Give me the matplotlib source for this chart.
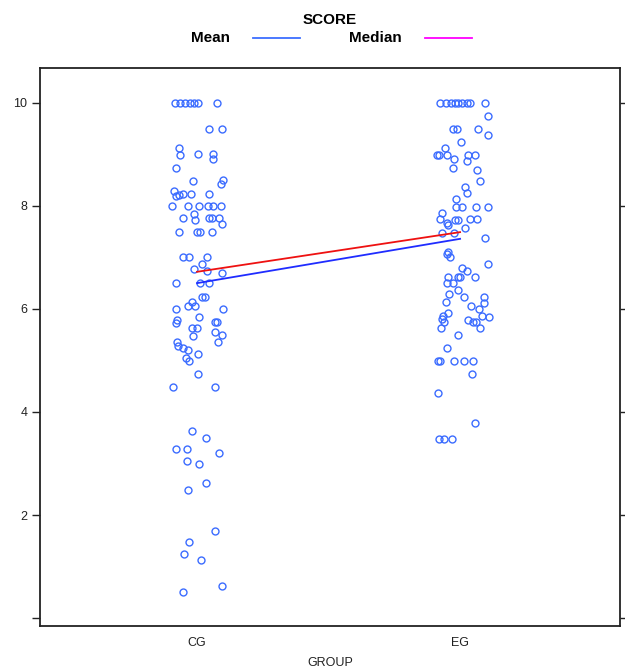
import matplotlib
matplotlib.use("Agg")
import matplotlib.pyplot as plt
from matplotlib.lines import Line2D
import numpy as np

plt.rcParams['font.family'] = ['Liberation Sans', 'DejaVu Sans']

groups = ["CG", "EG"]

cg_scores = [10, 10, 10, 10, 10, 10, 10,
             9.5, 9.5, 9.13, 8.99, 9.0, 9.01, 8.91, 8.74,
             8.49, 8.5, 8.43, 8.29, 8.19, 8.21, 8.23, 8.23, 8.23,
             8.0, 8.0, 8.0, 8.0, 8.0, 8.0,
             7.77, 7.84, 7.73, 7.77, 7.77, 7.77, 7.65,
             7.5, 7.5, 7.5, 7.5,
             7.0, 7.0, 7.0, 6.87, 6.78, 6.74, 6.70,
             6.5, 6.5, 6.5,
             6.23, 6.23, 6.14, 6.06, 6.06, 6.0, 6.0,
             5.85, 5.79, 5.73, 5.63, 5.63, 5.75, 5.75, 5.55, 5.48, 5.50, 5.36, 5.36,
             5.28, 5.24, 5.20, 5.13, 5.05, 4.99,
             4.74, 4.49, 4.49,
             3.63, 3.49, 3.28, 3.28, 3.2, 3.05, 2.99, 2.63, 2.49, 1.69, 1.47, 1.24,
             1.12, 0.62, 0.50]
cg_jitter = [-0.084, -0.065, -0.046, -0.027, -0.011, 0.004, 0.076,
             0.046, 0.095, -0.068, -0.065, 0.004, 0.061, 0.061, -0.080,
             -0.015, 0.099, 0.091, -0.087, -0.080, -0.068, -0.053, -0.023, 0.046,
             -0.095, -0.034, 0.008, 0.042, 0.061, 0.091,
             -0.053, -0.011, -0.008, 0.046, 0.057, 0.084, 0.095,
             -0.068, 0.0, 0.011, 0.057,
             -0.053, -0.030, 0.038, 0.019, -0.011, 0.038, 0.095,
             -0.080, 0.011, 0.046,
             0.019, 0.030, -0.019, -0.034, -0.008, -0.080, 0.099,
             0.008, -0.076, -0.080, -0.019, 0.0, 0.068, 0.076, 0.068, -0.015, 0.095, 0.080, -0.076,
             -0.072, -0.053, -0.034, 0.004, -0.042, -0.030,
             0.004, -0.091, 0.068,
             -0.019, 0.034, -0.080, -0.038, 0.084, -0.038, 0.008, 0.034, -0.034, 0.068, -0.030, -0.049,
             0.015, 0.095, -0.053]

eg_scores = [10, 10, 10, 10, 10, 10, 10, 10, 10,
             9.75, 9.5, 9.5, 9.5, 9.38, 9.24,
             9.13, 8.99, 8.99, 8.99, 8.99, 8.99, 8.91, 8.87,
             8.74, 8.70, 8.49, 8.37, 8.25, 8.14,
             7.98, 7.98, 7.98, 7.98,
             7.86, 7.75, 7.67, 7.73, 7.73, 7.75, 7.75,
             7.63, 7.48, 7.48, 7.57, 7.38,
             7.11, 7.01, 7.07, 6.87,
             6.79, 6.74, 6.62, 6.62, 6.62, 6.62, 6.5, 6.5, 6.37, 6.23, 6.29, 6.14, 6.23, 6.12, 6.06, 6.0,
             5.86, 5.93, 5.8, 5.75, 5.63, 5.85, 5.86, 5.79, 5.75, 5.75, 5.63, 5.49, 5.24,
             4.99, 4.99, 4.99, 4.99, 4.99, 4.74, 4.37, 3.79, 3.48, 3.48, 3.48]
eg_jitter = [-0.076, -0.053, -0.034, -0.019, -0.008, 0.008, 0.027, 0.038, 0.095,
             0.106, -0.027, -0.011, 0.068, 0.106, 0.004,
             -0.057, -0.087, -0.080, -0.049, 0.030, 0.057, -0.023, 0.027,
             -0.027, 0.065, 0.076, 0.019, 0.027, -0.015,
             -0.015, 0.008, 0.061, 0.106,
             -0.068, -0.076, -0.049, -0.019, -0.008, 0.038, 0.065,
             -0.046, -0.068, -0.023, 0.019, 0.095,
             -0.046, -0.038, -0.049, 0.106,
             0.008, 0.027, 0.057, -0.046, -0.008, 0.0, -0.049, -0.027, -0.008, 0.015, -0.042, -0.053, 0.091, 0.091, 0.042, 0.072,
             -0.065, -0.046, -0.068, -0.061, -0.072, 0.110, 0.084, 0.030, 0.049, 0.061, 0.076, -0.008, -0.049,
             -0.084, -0.076, -0.023, 0.015, 0.049, 0.046, -0.084, 0.057, -0.080, -0.061, -0.030]

group_means = [6.50, 7.36]
group_medians = [6.72, 7.49]

y_ticks = [0, 2, 4, 6, 8, 10]
y_ticklabels = ["", "2", "4", "6", "8", "10"]

point_color = "#3b6cff"
mean_color = "#1f2cff"
median_color = "#ee1111"

fig = plt.figure(figsize=(6.25, 6.71), dpi=100)
ax = fig.add_axes([0.064, 0.067, 0.928, 0.832])

pos = np.arange(1, len(groups) + 1)
for p, scores, jit in [(pos[0], cg_scores, cg_jitter), (pos[1], eg_scores, eg_jitter)]:
    ax.plot(p + np.array(jit), scores, linestyle="none", marker="o", markersize=5,
            markerfacecolor="none", markeredgecolor=point_color, markeredgewidth=1.0)

ax.plot(pos, group_medians, color=median_color, linewidth=1.3)
ax.plot(pos, group_means, color=mean_color, linewidth=1.3)

ax.set_xlim(0.403, 2.608)
ax.set_ylim(-0.155, 10.68)
ax.set_xticks(pos)
ax.set_xticklabels(groups, fontsize=9)
ax.set_yticks(y_ticks)
ax.set_yticklabels(y_ticklabels, fontsize=9)
ax.tick_params(axis="x", length=0, pad=8, colors="#222222")
ax.tick_params(axis="y", direction="out", length=6, width=1, left=True, right=True,
               labelleft=True, labelright=False, pad=3, colors="#222222")
for s in ax.spines.values():
    s.set_linewidth(1.3)
    s.set_color("#222222")

fig.text(0.528, 0.003, "GROUP", ha="center", va="bottom", fontsize=9, color="#222222")

# legend / key
fig.text(0.528, 0.970, "SCORE", ha="center", va="center", fontsize=11, fontweight="bold")
fig.text(0.336, 0.943, "Mean", ha="center", va="center", fontsize=11, fontweight="bold")
fig.text(0.600, 0.943, "Median", ha="center", va="center", fontsize=11, fontweight="bold")
fig.add_artist(Line2D([0.405, 0.48], [0.943, 0.943], transform=fig.transFigure,
                      color="#3d6eff", linewidth=1.3))
fig.add_artist(Line2D([0.68, 0.755], [0.943, 0.943], transform=fig.transFigure,
                      color="#ff00ff", linewidth=1.3))

fig.savefig("out.png", dpi=100)
